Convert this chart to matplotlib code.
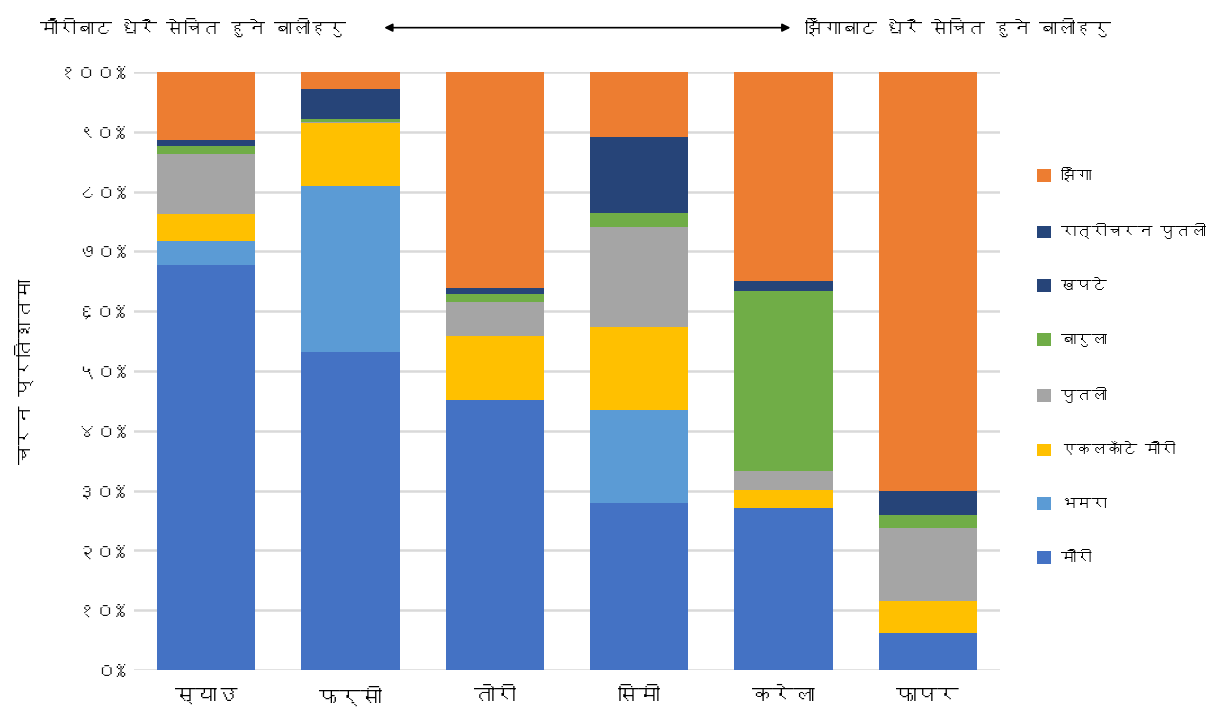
import matplotlib
matplotlib.use('Agg')
import matplotlib.pyplot as plt
from matplotlib import font_manager
from matplotlib.patches import Patch
import numpy as np

# --- DATA (percent of visits) ---
crops = ['स्याउ', 'फर्सी', 'तोरी', 'सिमी', 'करेला', 'फापर']
series_names = ['मौरी', 'भमरा', 'एकलकाँटे मौरी', 'पुतली', 'बारुला',
                'खपटे', 'रात्रीचरन पुतली', 'झिँगा']
mauri = [67.7, 53.2, 45.2, 28.0, 27.1, 6.2]
bhamara = [4.0, 27.7, 0.0, 15.4, 0.0, 0.0]
ekalkante = [4.5, 10.5, 10.6, 14.0, 3.0, 5.3]
putali = [10.1, 0.3, 5.7, 16.7, 3.1, 12.3]
barula = [1.3, 0.4, 1.3, 2.3, 30.2, 2.1]
khapate = [1.1, 5.0, 1.1, 12.8, 1.6, 4.0]
ratricharan = [0.0, 0.0, 0.0, 0.0, 0.0, 0.0]
jhinga = [11.3, 2.9, 36.1, 10.8, 35.0, 70.1]
ytick_labels = ['०%', '१०%', '२०%', '३०%', '४०%', '५०%',
                '६०%', '७०%', '८०%', '९०%', '१००%']
ylabel = 'चरन प्रतिशतमा'
left_note = 'मौरीबाट धेरै सेचित हुने बालीहरु'
right_note = 'झिँगाबाट धेरै सेचित हुने बालीहरु'

colors = ['#4472C4', '#5B9BD5', '#FFC000', '#A5A5A5', '#70AD47',
          '#264478', '#25457A', '#ED7D31']


# pick an installed font that has Devanagari glyphs, if any
def find_devanagari_font():
    try:
        from fontTools.ttLib import TTFont
    except ImportError:
        return None
    for f in font_manager.fontManager.ttflist:
        try:
            tt = TTFont(f.fname, fontNumber=0, lazy=True)
            cmap = tt.getBestCmap()
            if cmap and 0x0915 in cmap and 0x0967 in cmap:
                return f.name
        except Exception:
            continue
    return None


deva = find_devanagari_font()
families = ([deva] if deva else []) + ['DejaVu Sans']
plt.rcParams['font.family'] = families

fig = plt.figure(figsize=(12.11, 7.28), dpi=100)
ax = fig.add_axes([0.1107, 0.0797, 0.715, 0.8214])

values = [mauri, bhamara, ekalkante, putali, barula, khapate, ratricharan, jhinga]
x = np.arange(len(crops))
bottom = np.zeros(len(crops))
for name, vals, col in zip(series_names, values, colors):
    ax.bar(x, vals, width=0.68, bottom=bottom, color=col, label=name, zorder=3)
    bottom += np.array(vals)

ax.set_xlim(-0.5, len(crops) - 0.5)
ax.set_ylim(0, 100)
ax.set_yticks(np.arange(0, 101, 10))
ax.set_yticklabels(ytick_labels, fontsize=14, color='#111111')
ax.set_xticks(x)
ax.set_xticklabels(crops, fontsize=15, fontweight='bold')
ax.tick_params(axis='y', length=0, pad=6)
ax.tick_params(axis='x', length=0, pad=12)
ax.yaxis.grid(True, color='#D9D9D9', linewidth=1.8, zorder=0)
for s in ax.spines.values():
    s.set_visible(False)
ax.set_ylabel(ylabel, fontsize=14, fontweight='bold')
ax.yaxis.set_label_coords(-0.115, 0.5)

# top notes with double arrow
fig.text(0.033, 0.963, left_note, fontsize=13, va='center', ha='left')
fig.text(0.665, 0.963, right_note, fontsize=13, va='center', ha='left')
ax.annotate('', xy=(0.655, 0.962), xytext=(0.315, 0.962),
            xycoords='figure fraction', textcoords='figure fraction',
            arrowprops=dict(arrowstyle='<|-|>', color='black', lw=1.2,
                            mutation_scale=12))

# legend, top series first like Excel
handles = [Patch(facecolor=c) for c in colors][::-1]
fig.legend(handles, series_names[::-1], loc='upper left',
           bbox_to_anchor=(0.845, 0.788), frameon=False, fontsize=11,
           handlelength=0.9, handleheight=0.9, labelspacing=2.63,
           handletextpad=0.7)

fig.savefig('out.png', dpi=100)
